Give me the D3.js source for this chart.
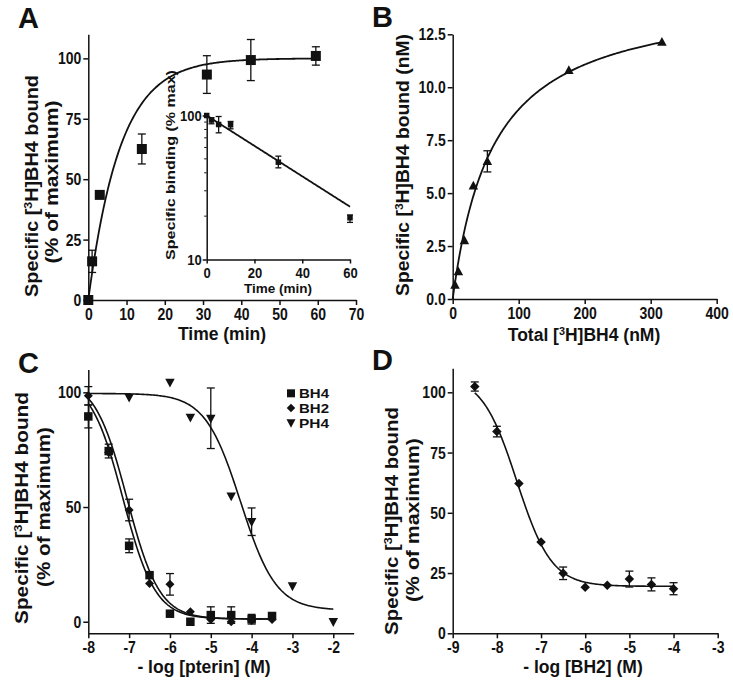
<!DOCTYPE html>
<html><head><meta charset="utf-8">
<script src="https://cdn.jsdelivr.net/npm/d3@7"></script>
<style>
body{margin:0;background:#fff}
svg{display:block}
</style></head><body>
<svg id="c" width="733" height="690"></svg>
<script>
// ---------------- DATA ----------------
// Panel A: association kinetics
const aTime  = [0, 1, 3, 14, 31, 42.5, 59.5];
const aBound = [0, 16, 43.5, 62.5, 93.3, 99.3, 101];
const aErr   = [0, 4.6, 0, 6.2, 7.8, 8.5, 3.8];
const aFit   = [100, 0.12];               // plateau, k (one-phase association)
const aXTicks = [0, 10, 20, 30, 40, 50, 60, 70];
const aYTicks = [0, 25, 50, 75, 100];
// Panel A inset: dissociation
const iTime    = [0, 2, 5, 10, 30, 60];
const iBinding = [100, 93, 86.6, 86.2, 47.4, 19.5];
const iErrHigh = [100, 96.4, 98.4, 90.9, 52.2, 20.4];
const iErrLow  = [100, 87.6, 75.8, 80.8, 43.3, 18.1];
const iFit     = [100, 0.0243];            // start, k (exponential decay)
const iXTicks  = [0, 20, 40, 60];
const iYTicks  = [10, 100];
const iYMinor  = [20, 30, 40, 50, 60, 70, 80, 90];
// Panel B: saturation
const bTotal = [3.5, 8.6, 17.7, 31.3, 52.5, 176, 317];
const bBound = [0.66, 1.29, 2.76, 5.34, 6.5, 10.79, 12.13];
const bErr   = [0, 0, 0, 0, 0.5, 0, 0];
const bFit   = [14.5, 62];                 // Bmax, Kd
const bXTicks = [0, 100, 200, 300, 400];
const bYTicks = [0, 2.5, 5, 7.5, 10, 12.5];
// Panel C: competition
const cConc   = [-8, -7.5, -7, -6.5, -6, -5.5, -5, -4.5, -4, -3.5];
const cBH4    = [89.5, 74.4, 33.1, 20.3, 3.5, 0, 2.9, 2.9, 1.1, 2.5];
const cBH4Err = [5, 3, 3, 0, 0, 0, 3.6, 3.6, 2.1, 0];
const cBH2    = [98.5, 73.8, 48.7, 16.7, 16.3, 4.4, 1, 0, 0.5, 1];
const cBH2Err = [4, 0, 4.7, 0, 4.7, 0, 0, 0, 0, 0];
const cPH4Conc = [-7, -6, -5.5, -5, -4.5, -4, -3, -2];
const cPH4    = [97.8, 104.4, 89.1, 88.7, 54.8, 43.6, 15.6, 0];
const cPH4Err = [0, 0, 0, 13.2, 0, 6, 0, 0];
const cFitBH4 = [106, 1.2, -7.15, 1.1];    // top, bottom, logIC50, hill
const cFitBH2 = [106, 1.2, -7.05, 1.1];
const cFitPH4 = [99.5, 5, -4.27, 1.0];
const cXTicks = [-8, -7, -6, -5, -4, -3, -2];
const cYTicks = [0, 50, 100];
const cLegend = ["BH4", "BH2", "PH4"];
// Panel D: BH2 competition
const dConc = [-8.5, -8, -7.5, -7, -6.5, -6, -5.5, -5, -4.5, -4];
const dVal  = [102.4, 83.7, 62.2, 37.9, 24.9, 19.1, 19.9, 22.5, 20.3, 18.5];
const dErr  = [1.9, 2.2, 0, 0, 2.6, 0, 0, 3.3, 2.7, 2.5];
const dFit  = [107, 19.5, -7.55, 1.1];
const dXTicks = [-9, -8, -7, -6, -5, -4, -3];
const dYTicks = [0, 25, 50, 75, 100];

// ---------------- DRAW ----------------
const FONT = '"Liberation Sans", Arial, Helvetica, sans-serif';
const INK = "#111";
const STRETCH = 1.22;
const svg = d3.select("#c");
svg.append("rect").attr("width", 733).attr("height", 690).attr("fill", "#fff");

function styleAxis(g, fs, orient, stretch) {
  g.attr("font-family", FONT).attr("font-size", fs).attr("font-weight", "bold");
  g.selectAll(".domain").attr("stroke", INK).attr("stroke-width", 1.5);
  g.selectAll(".tick line").attr("stroke", INK).attr("stroke-width", 1.5);
  const tx = g.selectAll(".tick text").attr("fill", INK);
  if (stretch) {
    if (orient === "bottom") {
      const y0 = +tx.attr("y");
      tx.attr("y", y0 / stretch).attr("transform", `scale(1,${stretch})`);
    } else {
      tx.attr("transform", `scale(1,${stretch})`);
    }
  }
  return g;
}
const shapes = {
  square: s => `M${-s/2},${-s/2}h${s}v${s}h${-s}Z`,
  diamond: s => `M0,${-s/2}L${s/2},0L0,${s/2}L${-s/2},0Z`,
  triUp: s => `M0,${-s*0.55}L${s/2},${s*0.38}L${-s/2},${s*0.38}Z`,
  triDown: s => `M0,${s*0.55}L${s/2},${-s*0.38}L${-s/2},${-s*0.38}Z`
};
function markers(g, xs, ys, xS, yS, shape, size) {
  g.append("g").selectAll("path").data(xs.map((x, i) => [x, ys[i]])).join("path")
    .attr("d", shapes[shape](size))
    .attr("transform", d => `translate(${xS(d[0])},${yS(d[1])})`)
    .attr("fill", INK);
}
function errBars(g, xs, hi, lo, xS, yS, cap) {
  const data = xs.map((x, i) => [x, hi[i], lo[i]]).filter(d => d[1] !== d[2]);
  const eg = g.append("g").attr("stroke", INK).attr("stroke-width", 1.3).attr("fill", "none");
  data.forEach(d => {
    const x = xS(d[0]), y1 = yS(d[1]), y2 = yS(d[2]);
    eg.append("line").attr("x1", x).attr("x2", x).attr("y1", y1).attr("y2", y2);
    eg.append("line").attr("x1", x - cap/2).attr("x2", x + cap/2).attr("y1", y1).attr("y2", y1);
    eg.append("line").attr("x1", x - cap/2).attr("x2", x + cap/2).attr("y1", y2).attr("y2", y2);
  });
}
function curve(g, fn, x0, x1, xS, yS, w) {
  const n = 200, pts = d3.range(n + 1).map(i => x0 + (x1 - x0) * i / n);
  g.append("path").datum(pts)
    .attr("d", d3.line().x(x => xS(x)).y(x => yS(fn(x))))
    .attr("fill", "none").attr("stroke", INK).attr("stroke-width", w || 1.8);
}
function sig(p) { return x => p[1] + (p[0] - p[1]) / (1 + Math.pow(10, (x - p[2]) * p[3])); }
function label(txt, x, y) {
  svg.append("text").attr("x", x).attr("y", y).text(txt)
    .attr("font-family", FONT).attr("font-weight", "bold").attr("font-size", 29).attr("fill", INK);
}
function addParts(t, parts, fs) {
  parts.forEach((p, i) => {
    if (typeof p === "string") {
      const prevSup = i > 0 && typeof parts[i-1] !== "string";
      const ts = t.append("tspan").text(p);
      if (prevSup) ts.attr("dy", fs * 0.33);
    } else {
      t.append("tspan").text(p.sup).attr("font-size", fs * 0.62).attr("dy", -fs * 0.33);
    }
  });
}
function hTitle(parts, cx, y, fs) {
  const t = svg.append("text").attr("x", cx).attr("y", y).attr("text-anchor", "middle")
    .attr("font-family", FONT).attr("font-weight", "bold").attr("font-size", fs).attr("fill", INK);
  addParts(t, parts, fs);
}
function vTitle(parts, bx, cy, fs, target) {
  const t = svg.append("text").attr("text-anchor", "middle")
    .attr("font-family", FONT).attr("font-weight", "bold").attr("font-size", fs).attr("fill", INK);
  addParts(t, parts, fs);
  const len = t.node().getComputedTextLength();
  const s = target ? target / len : 1;
  t.attr("transform", `translate(${bx},${cy}) rotate(-90) scale(${s},1)`);
}
const yTitle1 = ["Specific [", {sup: "3"}, "H]BH4 bound"];
const yTitle2 = ["(% of maximum)"];

// ---------- Panel A ----------
const xA = d3.scaleLinear([0, 70], [88.3, 356]);
const yA = d3.scaleLinear([0, 110], [300, 34.2]);
const gA = svg.append("g");
styleAxis(gA.append("g").attr("transform", `translate(0,${yA(0)})`)
  .call(d3.axisBottom(xA).tickValues(aXTicks).tickSize(5).tickSizeOuter(0).tickPadding(3)), 14, "bottom", STRETCH);
styleAxis(gA.append("g").attr("transform", `translate(${xA(0)},0)`)
  .call(d3.axisLeft(yA).tickValues(aYTicks).tickSize(5).tickSizeOuter(0).tickPadding(2)), 14, "left", STRETCH);
curve(gA, t => aFit[0] * (1 - Math.exp(-aFit[1] * t)), 0, 60, xA, yA, 1.8);
errBars(gA, aTime, aBound.map((v, i) => v + aErr[i]), aBound.map((v, i) => v - aErr[i]), xA, yA, 8);
markers(gA, aTime, aBound, xA, yA, "square", 10);

// inset
const xI = d3.scaleLinear([0, 60], [206.7, 350]);
const yI = d3.scaleLog([10, 100], [259.5, 115.5]);
const gI = svg.append("g");
styleAxis(gI.append("g").attr("transform", `translate(0,${yI(10)})`)
  .call(d3.axisBottom(xI).tickValues(iXTicks).tickSize(4).tickSizeOuter(0).tickPadding(5)), 13, "bottom", 1.08);
styleAxis(gI.append("g").attr("transform", `translate(${xI(0)},0)`)
  .call(d3.axisLeft(yI).tickValues(iYTicks).tickFormat(d3.format("d")).tickSize(4).tickSizeOuter(0).tickPadding(1)), 13, "left", 1.08);
gI.append("g").selectAll("line").data(iYMinor).join("line")
  .attr("x1", xI(0) - 2.5).attr("x2", xI(0)).attr("y1", d => yI(d)).attr("y2", d => yI(d))
  .attr("stroke", INK).attr("stroke-width", 1);
curve(gI, t => iFit[0] * Math.exp(-iFit[1] * t), 0, 60, xI, yI, 1.8);
errBars(gI, iTime, iErrHigh, iErrLow, xI, yI, 6);
markers(gI, iTime, iBinding, xI, yI, "square", 5.5);

// ---------- Panel B ----------
const xB = d3.scaleLinear([0, 400], [452.7, 716.7]);
const yB = d3.scaleLinear([0, 12.5], [299, 34.3]);
const gB = svg.append("g");
styleAxis(gB.append("g").attr("transform", `translate(0,${yB(0)})`)
  .call(d3.axisBottom(xB).tickValues(bXTicks).tickSize(5).tickSizeOuter(0).tickPadding(3)), 14, "bottom", STRETCH);
styleAxis(gB.append("g").attr("transform", `translate(${xB(0)},0)`)
  .call(d3.axisLeft(yB).tickValues(bYTicks).tickFormat(d3.format(".1f")).tickSize(5).tickSizeOuter(0).tickPadding(2)), 14, "left", STRETCH);
curve(gB, x => bFit[0] * x / (bFit[1] + x), 0, 317, xB, yB, 1.8);
errBars(gB, bTotal, bBound.map((v, i) => v + bErr[i]), bBound.map((v, i) => v - bErr[i]), xB, yB, 8);
markers(gB, bTotal, bBound, xB, yB, "triUp", 9.5);

// ---------- Panel C ----------
const xC = d3.scaleLinear([-8, -1.5], [88.3, 353.7]);
const yC = d3.scaleLinear([-5, 110], [633.2, 369.4]);
const gC = svg.append("g");
styleAxis(gC.append("g").attr("transform", `translate(0,${yC(-5)})`)
  .call(d3.axisBottom(xC).tickValues(cXTicks).tickFormat(d => String(d)).tickSize(5).tickSizeOuter(0).tickPadding(3)), 14, "bottom", STRETCH);
styleAxis(gC.append("g").attr("transform", `translate(${xC(-8)},0)`)
  .call(d3.axisLeft(yC).tickValues(cYTicks).tickSize(5).tickSizeOuter(0).tickPadding(2)), 14, "left", STRETCH);
curve(gC, sig(cFitBH4), -8, -3.5, xC, yC, 1.6);
curve(gC, sig(cFitBH2), -8, -3.5, xC, yC, 1.6);
curve(gC, sig(cFitPH4), -8, -2, xC, yC, 1.6);
errBars(gC, cConc, cBH4.map((v, i) => v + cBH4Err[i]), cBH4.map((v, i) => v - cBH4Err[i]), xC, yC, 8);
errBars(gC, cConc, cBH2.map((v, i) => v + cBH2Err[i]), cBH2.map((v, i) => v - cBH2Err[i]), xC, yC, 8);
errBars(gC, cPH4Conc, cPH4.map((v, i) => v + cPH4Err[i]), cPH4.map((v, i) => v - cPH4Err[i]), xC, yC, 8);
markers(gC, cConc, cBH4, xC, yC, "square", 8.5);
markers(gC, cConc, cBH2, xC, yC, "diamond", 9);
markers(gC, cPH4Conc, cPH4, xC, yC, "triDown", 9.5);
// legend
const legShapes = ["square", "diamond", "triDown"];
const legSizes = [8, 8.5, 9];
cLegend.forEach((name, i) => {
  const y = 393.3 + i * 14.7;
  svg.append("path").attr("d", shapes[legShapes[i]](legSizes[i])).attr("transform", `translate(291,${y})`).attr("fill", INK);
  svg.append("text").attr("x", 299).attr("y", y + 5).text(name)
    .attr("textLength", 30).attr("lengthAdjust", "spacingAndGlyphs")
    .attr("font-family", FONT).attr("font-weight", "bold").attr("font-size", 13).attr("fill", INK);
});

// ---------- Panel D ----------
const xD = d3.scaleLinear([-9, -3], [452.7, 717.7]);
const yD = d3.scaleLinear([0, 110], [633.3, 368.2]);
const gD = svg.append("g");
styleAxis(gD.append("g").attr("transform", `translate(0,${yD(0)})`)
  .call(d3.axisBottom(xD).tickValues(dXTicks).tickFormat(d => String(d)).tickSize(5).tickSizeOuter(0).tickPadding(3)), 14, "bottom", STRETCH);
styleAxis(gD.append("g").attr("transform", `translate(${xD(-9)},0)`)
  .call(d3.axisLeft(yD).tickValues(dYTicks).tickSize(5).tickSizeOuter(0).tickPadding(2)), 14, "left", STRETCH);
curve(gD, sig(dFit), -8.5, -4, xD, yD, 1.6);
errBars(gD, dConc, dVal.map((v, i) => v + dErr[i]), dVal.map((v, i) => v - dErr[i]), xD, yD, 8);
markers(gD, dConc, dVal, xD, yD, "diamond", 9.5);

// ---------- Titles ----------
label("A", 18, 28); label("B", 372, 27); label("C", 18, 373); label("D", 372, 370);
hTitle(["Time (min)"], 222, 340, 17.5);
hTitle(["Total [", {sup: "3"}, "H]BH4 (nM)"], 584, 341, 17.5);
hTitle(["- log [pterin] (M)"], 204, 673, 17.5);
hTitle(["- log [BH2] (M)"], 583, 673, 17.5);
svg.append("text").attr("x", 278).attr("y", 293).attr("text-anchor", "middle").text("Time (min)")
  .attr("font-family", FONT).attr("font-weight", "bold").attr("font-size", 13.5).attr("fill", INK);
vTitle(["Specific binding (% max)"], 175, 165, 13.5, 190);
vTitle(yTitle1, 38, 186, 18, 222);
vTitle(yTitle2, 58, 182, 18, 163);
vTitle(["Specific [", {sup: "3"}, "H]BH4 bound (nM)"], 409, 165, 18, 262);
vTitle(yTitle1, 28, 508, 18, 232);
vTitle(yTitle2, 50, 507, 18, 160);
vTitle(yTitle1, 398, 521, 18, 228);
vTitle(yTitle2, 419, 520, 18, 164);
</script>
</body></html>
